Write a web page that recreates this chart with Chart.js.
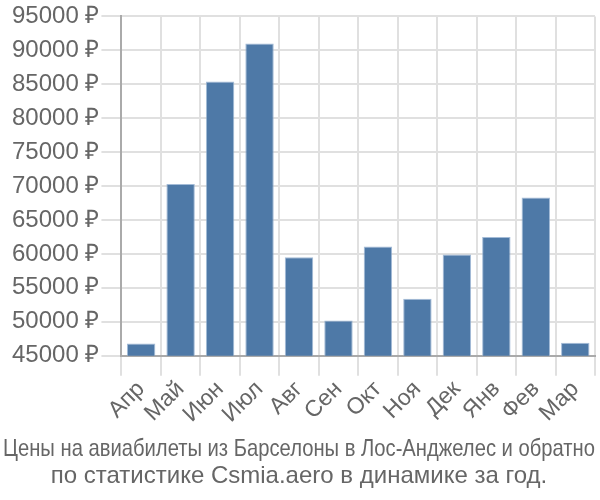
<!DOCTYPE html>
<html>
<head>
<meta charset="utf-8">
<script src="https://cdn.jsdelivr.net/npm/chart.js@4"></script>
<style>
  html, body { margin: 0; padding: 0; background: #fff; }
  #wrap { width: 600px; height: 500px; }
</style>
</head>
<body>
<div id="wrap"><canvas id="c" width="600" height="500"></canvas></div>
<script>
const months = ['Апр', 'Май', 'Июн', 'Июл', 'Авг', 'Сен', 'Окт', 'Ноя', 'Дек', 'Янв', 'Фев', 'Мар']
const prices = [46800, 70300, 85400, 91000, 59500, 50200, 61100, 53400, 59900, 62500, 68300, 46900]
const yMin = 45000
const yMax = 95000
const yStep = 5000
const titleLines = [
  'Цены на авиабилеты из Барселоны в Лос-Анджелес и обратно',
  'по статистике Csmia.aero в динамике за год.',
]

Chart.defaults.font.family = '"Liberation Sans", Arial, sans-serif'
Chart.defaults.color = '#666'

new Chart(document.getElementById('c'), {
  type: 'bar',
  data: {
    labels: months,
    datasets: [{
      data: prices,
      backgroundColor: '#4e79a7',
      borderColor: 'rgba(140, 170, 205, 0.8)',
      borderWidth: 1,
      barPercentage: 0.72,
      categoryPercentage: 1,
    }],
  },
  options: {
    responsive: false,
    animation: false,
    layout: { padding: { top: 2, right: 5, left: 3, bottom: 0 } },
    scales: {
      x: {
        grid: { color: '#e0e0e0', lineWidth: 2, offset: true, tickLength: 20 },
        border: { color: '#aaa', width: 2 },
        ticks: { font: { size: 23 }, maxRotation: 45, minRotation: 45, padding: 0, autoSkip: false },
      },
      y: {
        min: yMin,
        max: yMax,
        afterFit: s => { s.width += 7 },
        ticks: {
          stepSize: yStep,
          font: { size: 24 },
          padding: 2,
          callback: v => v + ' ₽',
        },
        grid: { color: '#e0e0e0', lineWidth: 2, tickLength: 20 },
        border: { color: '#aaa', width: 2 },
      },
    },
    plugins: {
      legend: { display: false },
      tooltip: { enabled: false },
      title: {
        display: true,
        position: 'bottom',
        text: titleLines,
        font: { size: 24, weight: 'normal', lineHeight: 1.12 },
        color: '#666',
        padding: { top: 8, bottom: 10 },
      },
    },
  },
})
</script>
</body>
</html>
